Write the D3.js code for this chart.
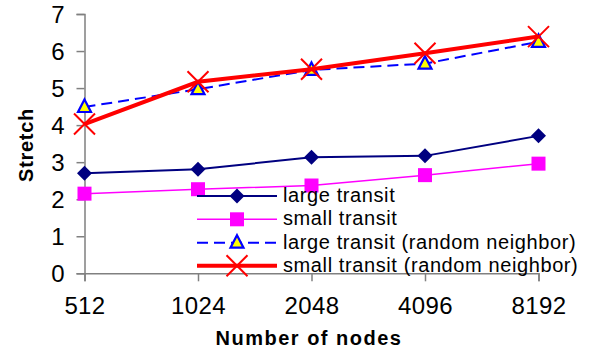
<!DOCTYPE html>
<html>
<head>
<meta charset="utf-8">
<script src="https://cdn.jsdelivr.net/npm/d3@7"></script>
<style>
  html, body { margin: 0; padding: 0; background: #fff; }
  svg { display: block; font-family: "Liberation Sans", Arial, sans-serif; }
</style>
</head>
<body>
<svg id="chart" width="590" height="352"></svg>
<script>
// Network size on the x axis, stretch on the y axis
const nodeCounts = ["512", "1024", "2048", "4096", "8192"];
const yTicks = [0, 1, 2, 3, 4, 5, 6, 7];

const largeTransit = [2.70, 2.81, 3.13, 3.17, 3.71];
const smallTransit = [2.15, 2.27, 2.37, 2.65, 2.96];
const largeTransitRandom = [4.49, 4.97, 5.49, 5.66, 6.25];
const smallTransitRandom = [4.03, 5.17, 5.51, 5.94, 6.39];

const seriesNames = [
  "large transit",
  "small transit",
  "large transit (random neighbor)",
  "small transit (random neighbor)"
];

const series = [
  { name: seriesNames[0], values: largeTransit, color: "#000080", width: 2, dash: null, marker: "diamond" },
  { name: seriesNames[1], values: smallTransit, color: "#FF00FF", width: 1.5, dash: null, marker: "square" },
  { name: seriesNames[2], values: largeTransitRandom, color: "#0000FF", width: 2, dash: "11,6", marker: "triangle" },
  { name: seriesNames[3], values: smallTransitRandom, color: "#FF0000", width: 4, dash: null, marker: "cross" }
];

const svg = d3.select("#chart");
const axisColor = "#808080";

const x = d3.scalePoint().domain(nodeCounts).range([84.5, 538.5]).padding(0);
const y = d3.scaleLinear().domain([0, 7]).range([273.3, 14]);

// Y axis
const yAxis = svg.append("g")
  .attr("transform", "translate(84.5,0)")
  .call(d3.axisLeft(y).tickValues(yTicks).tickSize(8).tickPadding(12).tickFormat(d3.format("d")));
yAxis.select(".domain").attr("stroke", axisColor).attr("stroke-width", 1.5);
yAxis.selectAll(".tick line").attr("stroke", axisColor).attr("stroke-width", 1.5);
yAxis.selectAll(".tick text")
  .attr("fill", "#000")
  .style("font-size", "24px")
  .attr("dy", "0.36em");

// X axis
const xAxis = svg.append("g")
  .attr("transform", `translate(0,${y(0)})`)
  .call(d3.axisBottom(x).tickSize(8).tickPadding(16));
xAxis.select(".domain").attr("stroke", axisColor).attr("stroke-width", 1.5);
xAxis.selectAll(".tick text")
  .attr("fill", "#000")
  .style("font-size", "24px")
  .style("letter-spacing", "0.4px");
xAxis.selectAll(".tick line").attr("stroke", axisColor).attr("stroke-width", 1.5);

// Axis titles
svg.append("text")
  .attr("x", 309).attr("y", 345)
  .attr("text-anchor", "middle")
  .style("font-size", "20px").style("font-weight", "bold").style("letter-spacing", "1.5px")
  .text("Number of nodes");

svg.append("text")
  .attr("transform", "translate(33,145) rotate(-90)")
  .attr("text-anchor", "middle")
  .style("font-size", "20px").style("font-weight", "bold").style("letter-spacing", "0.7px")
  .text("Stretch");

// Marker drawing
function drawMarker(g, type, color, cx, cy) {
  if (type === "diamond") {
    g.append("path")
      .attr("d", `M${cx},${cy - 7.5}L${cx + 7.5},${cy}L${cx},${cy + 7.5}L${cx - 7.5},${cy}Z`)
      .attr("fill", color);
  } else if (type === "square") {
    g.append("rect")
      .attr("x", cx - 7).attr("y", cy - 7).attr("width", 14).attr("height", 14)
      .attr("fill", color);
  } else if (type === "triangle") {
    g.append("path")
      .attr("d", `M${cx},${cy - 7.5}L${cx + 6.5},${cy + 5}L${cx - 6.5},${cy + 5}Z`)
      .attr("fill", "#FFFF00").attr("stroke", color).attr("stroke-width", 2.2)
      .attr("stroke-linejoin", "miter");
  } else if (type === "cross") {
    const r = 10.5;
    g.append("path")
      .attr("d", `M${cx - r},${cy - r}L${cx + r},${cy + r}M${cx - r},${cy + r}L${cx + r},${cy - r}`)
      .attr("stroke", color).attr("stroke-width", 2).attr("fill", "none");
  }
}

const line = d3.line()
  .x((d, i) => x(nodeCounts[i]))
  .y(d => y(d));

// Series lines and markers
series.forEach(s => {
  const g = svg.append("g");
  g.append("path")
    .attr("d", line(s.values))
    .attr("fill", "none")
    .attr("stroke", s.color)
    .attr("stroke-width", s.width)
    .attr("stroke-dasharray", s.dash);
  s.values.forEach((v, i) => drawMarker(g, s.marker, s.color, x(nodeCounts[i]), y(v)));
});

// Legend
const legendRowY = [196, 219.3, 242.7, 265.7];
const legend = svg.append("g");
series.forEach((s, i) => {
  const ry = legendRowY[i];
  legend.append("line")
    .attr("x1", 197).attr("x2", 277).attr("y1", ry).attr("y2", ry)
    .attr("stroke", s.color).attr("stroke-width", s.width)
    .attr("stroke-dasharray", s.dash);
  drawMarker(legend, s.marker, s.color, 237, ry);
  legend.append("text")
    .attr("x", 283).attr("y", ry + 6)
    .style("font-size", "20px").style("letter-spacing", "0.6px")
    .text(s.name);
});
</script>
</body>
</html>
